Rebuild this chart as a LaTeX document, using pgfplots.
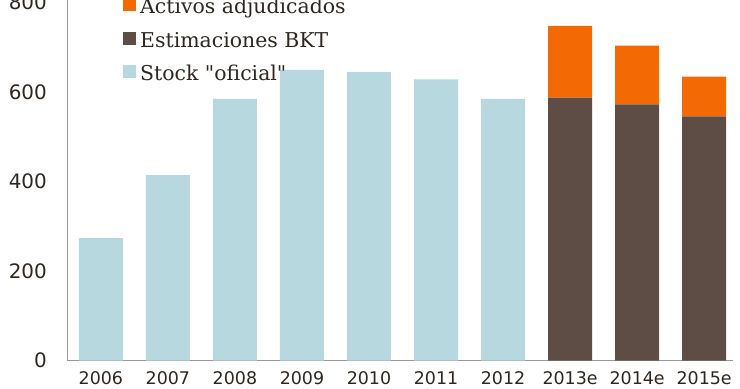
\documentclass[border=0pt]{standalone}
\usepackage{pgfplots}
\pgfplotsset{compat=1.18}
\usepackage{pgfplotstable}
\usepackage{fontspec}
\setmainfont{DejaVu Serif}[Ligatures=TeXOff]
\newfontfamily\ticksfont{DejaVu Sans}
\definecolor{cblue}{HTML}{B8D8E0}
\definecolor{cbrown}{HTML}{5E4D45}
\definecolor{corange}{HTML}{F36A05}
\definecolor{caxis}{HTML}{999999}
\definecolor{ctext}{HTML}{2E2620}
\pgfplotstableread{
x stock bkt activos
0 273 0 0
1 414 0 0
2 584 0 0
3 649 0 0
4 644 0 0
5 628 0 0
6 584 0 0
7 0 587 160
8 0 572 131
9 0 545 89
}\datatable
\begin{document}
\begin{tikzpicture}
\begin{axis}[
  scale only axis, width=665bp, height=360.5bp,
  at={(0,0)}, anchor=south west,
  ybar stacked, bar width=44bp,
  xmin=-0.49, xmax=9.43, ymin=0, ymax=805,
  xtick={0,...,9},
  xticklabels={2006,2007,2008,2009,2010,2011,2012,2013e,2014e,2015e},
  ytick={0,200,400,600,800},
  /pgf/number format/assume math mode=true,
  axis lines=left, axis line style={-, draw=caxis, line width=1bp},
  major tick length=0pt,
  yticklabel style={font=\ticksfont\fontsize{20}{20}\selectfont, text=ctext, anchor=east, inner sep=0pt, xshift=-21bp},
  xticklabel style={font=\ticksfont\fontsize{17.5}{17.5}\selectfont, text=ctext, anchor=north, inner sep=0pt, yshift=-11bp},
  reverse legend,
  legend cell align=left,
  legend image code/.code={\fill[#1] (0bp,-3bp) rectangle (13bp,10bp);},
  legend style={at={(rel axis cs:0.0827,1.006)}, anchor=north west, draw=none, fill=none, inner sep=0pt, column sep=4bp, row sep=14bp,
    font=\fontsize{20.5}{20.5}\selectfont, text=ctext,
    nodes={inner sep=0pt, text height=15bp, text depth=4bp}},
]
\addplot[fill=cblue, draw=none] table[x=x, y=stock] {\datatable};
\addlegendentry{Stock "oficial"}
\addplot[fill=cbrown, draw=none] table[x=x, y=bkt] {\datatable};
\addlegendentry{Estimaciones BKT}
\addplot[fill=corange, draw=none] table[x=x, y=activos] {\datatable};
\addlegendentry{Activos adjudicados}
\end{axis}
\pgfresetboundingbox
\path[use as bounding box] (-68bp,-28.5bp) rectangle (672bp,360.5bp);
\end{tikzpicture}
\end{document}
